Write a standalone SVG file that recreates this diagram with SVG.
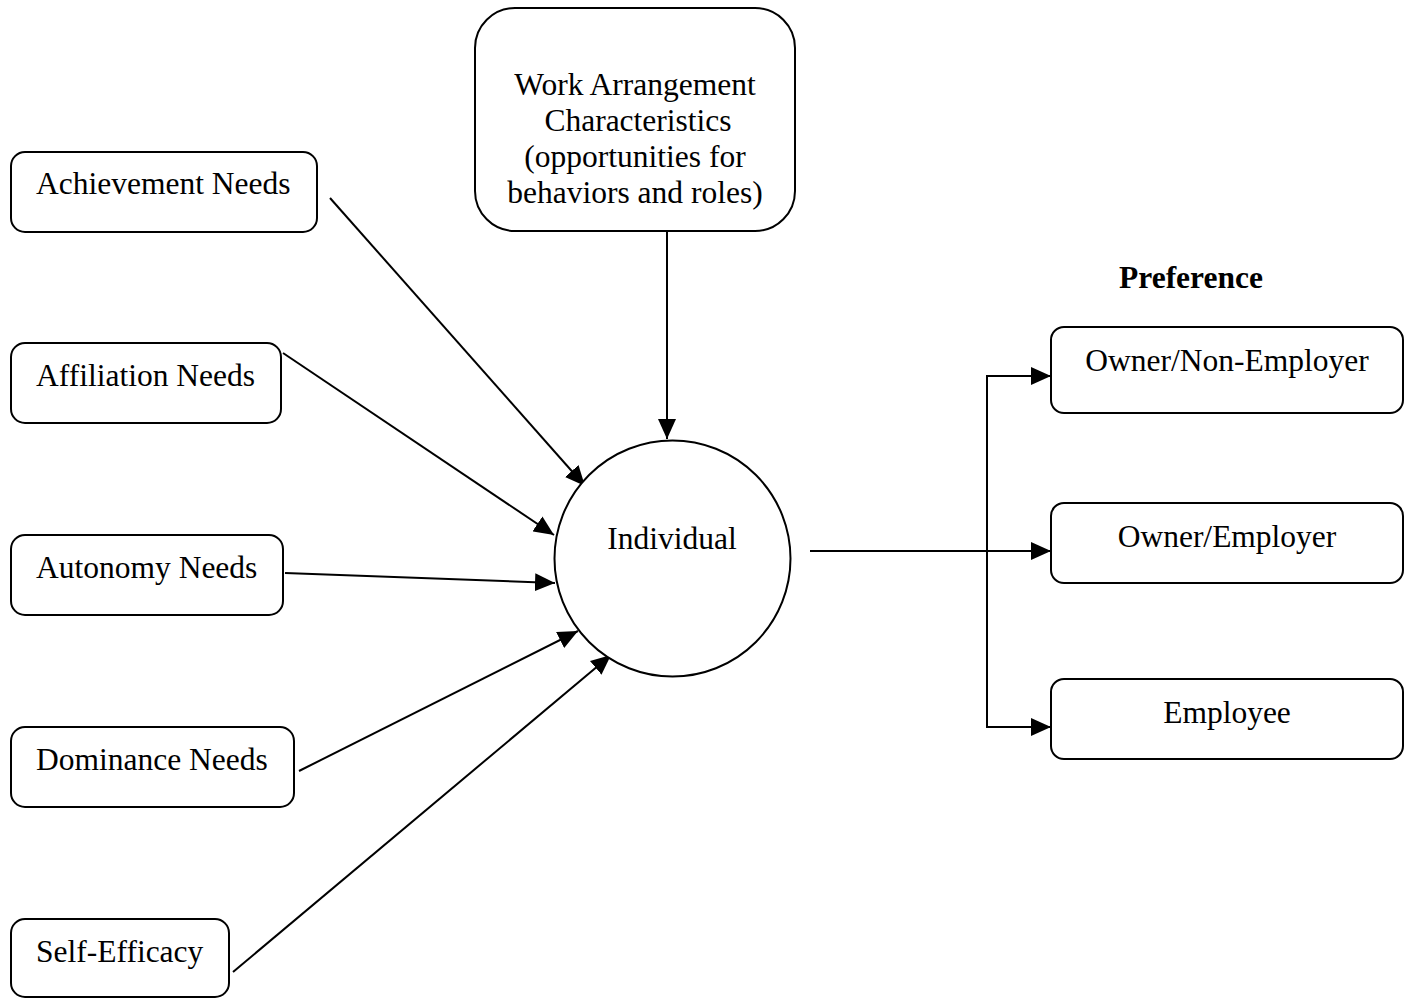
<svg xmlns="http://www.w3.org/2000/svg" width="1410" height="998" viewBox="0 0 1410 998">
<style>
.box{fill:#fff;stroke:#000;stroke-width:2}
.t{font-family:"Liberation Serif","Times New Roman",serif;font-size:31.5px;fill:#000}
.c{text-anchor:middle}
.b{font-weight:bold}
.ln{fill:none;stroke:#000;stroke-width:2}
</style>
<defs>
<marker id="ah" markerUnits="userSpaceOnUse" markerWidth="20" markerHeight="18" refX="20" refY="9" orient="auto" viewBox="0 0 20 18">
<path d="M0,0 L20,9 L0,18 z" fill="#000"/>
</marker>
</defs>
<rect width="1410" height="998" fill="#fff"/>
<g id="connectors">
<line class="ln" x1="330" y1="198" x2="585" y2="486" marker-end="url(#ah)"/>
<line class="ln" x1="283" y1="353" x2="554" y2="535" marker-end="url(#ah)"/>
<line class="ln" x1="285" y1="573" x2="555" y2="583" marker-end="url(#ah)"/>
<line class="ln" x1="299" y1="771" x2="578" y2="631" marker-end="url(#ah)"/>
<line class="ln" x1="233" y1="972" x2="611" y2="655" marker-end="url(#ah)"/>
<line class="ln" x1="667" y1="231" x2="667" y2="439" marker-end="url(#ah)"/>
<line class="ln" x1="810" y1="551" x2="1051" y2="551" marker-end="url(#ah)"/>
<polyline class="ln" points="1051,376 987,376 987,727 1051,727" marker-end="url(#ah)"/>
<line class="ln" x1="987" y1="376" x2="1051" y2="376" marker-end="url(#ah)"/>
</g>
<g id="achievement">
<rect class="box" x="11" y="152" width="306" height="80" rx="14"/>
<text class="t" x="36" y="194">Achievement Needs</text>
</g>
<g id="affiliation">
<rect class="box" x="11" y="343" width="270" height="80" rx="14"/>
<text class="t" x="36" y="386">Affiliation Needs</text>
</g>
<g id="autonomy">
<rect class="box" x="11" y="535" width="272" height="80" rx="14"/>
<text class="t" x="36" y="578">Autonomy Needs</text>
</g>
<g id="dominance">
<rect class="box" x="11" y="727" width="283" height="80" rx="14"/>
<text class="t" x="36" y="770">Dominance Needs</text>
</g>
<g id="selfefficacy">
<rect class="box" x="11" y="919" width="218" height="78" rx="14"/>
<text class="t" x="36" y="962">Self-Efficacy</text>
</g>
<g id="work">
<rect class="box" x="475" y="8" width="320" height="223" rx="40"/>
<text class="t c" x="635" y="95">Work Arrangement</text>
<text class="t c" x="638" y="131">Characteristics</text>
<text class="t c" x="635" y="167">(opportunities for</text>
<text class="t c" x="635" y="203">behaviors and roles)</text>
</g>
<g id="individual">
<circle class="box" cx="672.5" cy="558.5" r="118"/>
<text class="t c" x="672" y="549">Individual</text>
</g>
<g id="preference">
<text class="t c b" x="1191" y="288">Preference</text>
</g>
<g id="nonemployer">
<rect class="box" x="1051" y="327" width="352" height="86" rx="13"/>
<text class="t c" x="1227" y="371">Owner/Non-Employer</text>
</g>
<g id="employer">
<rect class="box" x="1051" y="503" width="352" height="80" rx="13"/>
<text class="t c" x="1227" y="547">Owner/Employer</text>
</g>
<g id="employee">
<rect class="box" x="1051" y="679" width="352" height="80" rx="13"/>
<text class="t c" x="1227" y="723">Employee</text>
</g>
</svg>
